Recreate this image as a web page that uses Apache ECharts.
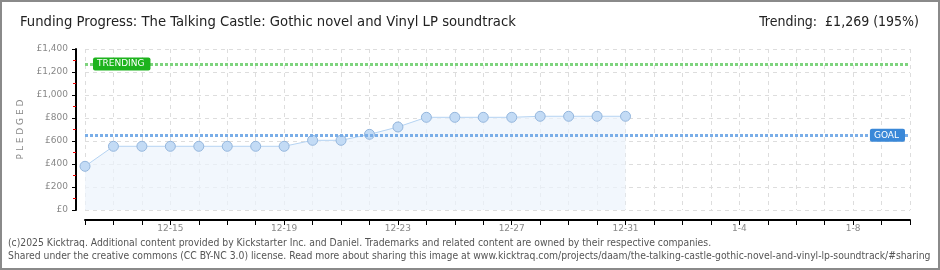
<!DOCTYPE html>
<html><head><meta charset="utf-8">
<script src="https://cdn.jsdelivr.net/npm/echarts@6/dist/echarts.min.js"></script>
<style>html,body{margin:0;padding:0;background:#fff}#c{width:940px;height:270px}</style>
</head><body><div id="c"></div>
<script>
const titleText = 'Funding Progress: The Talking Castle: Gothic novel and Vinyl LP soundtrack';
const trendingText = 'Trending:  £1,269 (195%)';
const footer1 = '(c)2025 Kicktraq. Additional content provided by Kickstarter Inc. and Daniel. Trademarks and related content are owned by their respective companies.';
const footer2 = 'Shared under the creative commons (CC BY-NC 3.0) license. Read more about sharing this image at www.kicktraq.com/projects/daam/the-talking-castle-gothic-novel-and-vinyl-lp-soundtrack/#sharing';
const dates = ['12-12','12-13','12-14','12-15','12-16','12-17','12-18','12-19','12-20','12-21','12-22','12-23','12-24','12-25','12-26','12-27','12-28','12-29','12-30','12-31','1-1','1-2','1-3','1-4','1-5','1-6','1-7','1-8','1-9','1-10'];
const pledged = [380,554,554,554,554,554,554,554,606,606,658,722,806,806,806,806,815,815,815,815];
const goal = 650;
const trending = 1269;
const yMax = 1400;
const yInterval = 200;

const chart = echarts.init(document.getElementById('c'), null, {renderer:'canvas'});
chart.setOption({
  animation:false,
  graphic:[
    {type:'rect', shape:{x:1,y:1,width:938,height:268}, style:{fill:'none',stroke:'#8a8a8a',lineWidth:2}, silent:true},
    {type:'text', left:20, top:15, style:{text:titleText, font:'14.7px "Liberation Sans Narrow","DejaVu Sans Condensed",sans-serif', fill:'#222'}},
    {type:'text', right:21, top:15, style:{text:trendingText, font:'14px "Liberation Sans Narrow","DejaVu Sans Condensed",sans-serif', fill:'#222'}},
    {type:'text', left:8, top:238, style:{text:footer1, font:'10.3px "Liberation Sans Narrow","DejaVu Sans Condensed",sans-serif', fill:'#555'}},
    {type:'text', left:8, top:251, style:{text:footer2, font:'10.3px "Liberation Sans Narrow","DejaVu Sans Condensed",sans-serif', fill:'#555'}}
  ],
  grid:{left:85, right:30, top:49, bottom:60, containLabel:false},
  xAxis:{
    type:'category', data:dates, boundaryGap:false, offset:10,
    axisLine:{onZero:false, lineStyle:{color:'#000',width:2}},
    axisTick:{show:true, interval:0, length:5, lineStyle:{color:'#000'}},
    axisLabel:{interval:(i)=>i%4===3, color:'#888', fontSize:9, fontFamily:'DejaVu Sans', margin:4},
    splitLine:{show:true, interval:0, lineStyle:{color:'#ddd', type:[4,4]}}
  },
  yAxis:{
    type:'value', min:0, max:yMax, interval:yInterval, offset:9,
    name:'P L E D G E D', nameLocation:'middle', nameGap:48, nameRotate:90,
    nameTextStyle:{color:'#888', fontSize:9, fontFamily:'DejaVu Sans'},
    axisLine:{show:true, onZero:false, lineStyle:{color:'#000',width:2}},
    axisTick:{show:true, length:4, lineStyle:{color:'#000'}},
    minorTick:{show:true, splitNumber:2, length:3, lineStyle:{color:'#e00'}},
    axisLabel:{color:'#888', fontSize:9, fontFamily:'DejaVu Sans', margin:8,
      formatter:(v)=>'£'+v.toLocaleString('en-US')},
    splitLine:{show:true, lineStyle:{color:'#ddd', type:[4,4]}}
  },
  series:[{
    type:'line', data:pledged,
    symbol:'circle', symbolSize:10,
    lineStyle:{color:'#b5d3f2', width:1},
    itemStyle:{color:'#c3dbf5', borderColor:'#93b5dc', borderWidth:1},
    areaStyle:{color:'#edf4fc'},
    markLine:{
      silent:true, symbol:['none','none'],
      data:[
        {yAxis:trending, lineStyle:{color:'#7ed37e', width:3, type:[3,2]},
         label:{show:true, position:'insideStart', formatter:'TRENDING', color:'#fff', backgroundColor:'#1db31d',
           borderRadius:2, padding:[2,6,2,4], fontSize:9, fontFamily:'DejaVu Sans', distance:8}},
        {yAxis:goal, lineStyle:{color:'#7aaee8', width:3, type:[3,2]},
         label:{show:true, position:'insideEnd', formatter:'GOAL', color:'#fff', backgroundColor:'#3a88d8',
           borderRadius:2, padding:[2,6,2,4], fontSize:9, fontFamily:'DejaVu Sans', distance:5}}
      ]
    }
  }]
});
</script></body></html>
